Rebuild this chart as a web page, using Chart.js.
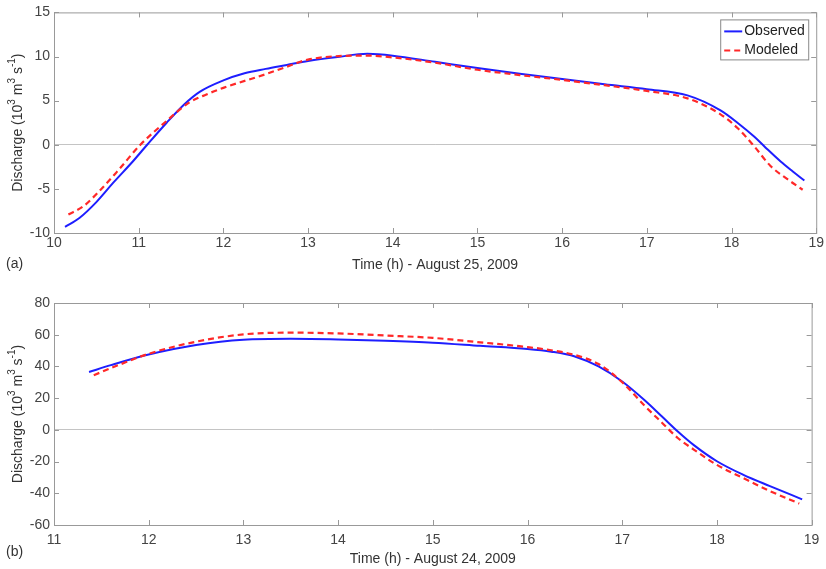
<!DOCTYPE html>
<html>
<head>
<meta charset="utf-8">
<script src="https://cdn.jsdelivr.net/npm/chart.js@4/dist/chart.umd.min.js"></script>
<style>
  body { margin: 0; background: #fff; }
  #wrap { position: relative; width: 826px; height: 569px; }
  canvas { position: absolute; left: 0; }
  #chartA { top: 0; }
  #chartB { top: 284px; }
</style>
</head>
<body>
<div id="wrap">
  <canvas id="chartA" width="826" height="284"></canvas>
  <canvas id="chartB" width="826" height="285"></canvas>
</div>
<script>
// panel (a) - August 25, 2009
var timeObsA = [10.13, 10.3, 10.5, 10.7, 10.93, 11.1, 11.33, 11.54, 11.72, 12.0, 12.25, 12.5, 12.75, 13.0, 13.35, 13.7, 14.0, 14.5, 15.0, 15.5, 16.0, 16.5, 17.0, 17.48, 17.87, 18.07, 18.27, 18.4, 18.58, 18.72, 18.86];
var observedA = [-9.3, -8.3, -6.5, -4.3, -1.9, 0, 2.5, 4.6, 6.0, 7.3, 8.1, 8.6, 9.05, 9.5, 9.95, 10.3, 10.1, 9.4, 8.7, 8.05, 7.45, 6.85, 6.3, 5.6, 3.9, 2.5, 0.9, -0.3, -1.9, -3.0, -4.05];
var timeModA = [10.17, 10.35, 10.54, 10.74, 11.02, 11.33, 11.6, 11.8, 12.0, 12.5, 12.75, 13.0, 13.7, 14.0, 14.5, 15.0, 15.5, 16.0, 16.5, 17.0, 17.48, 17.87, 18.07, 18.27, 18.46, 18.66, 18.84];
var modeledA = [-7.9, -6.95, -5.2, -3.1, 0, 2.7, 4.8, 5.7, 6.45, 8.0, 8.85, 9.65, 10.1, 9.9, 9.3, 8.5, 7.9, 7.35, 6.75, 6.1, 5.26, 3.45, 1.9, -0.2, -2.4, -3.9, -5.1];

// panel (b) - August 24, 2009
var timeObsB = [11.37, 11.6, 12.0, 12.5, 13.0, 13.5, 14.0, 14.5, 15.0, 15.5, 16.0, 16.25, 16.5, 16.75, 17.0, 17.24, 17.42, 17.59, 17.76, 18.0, 18.28, 18.56, 18.9];
var observedB = [36.5, 40.8, 47.5, 53.5, 56.8, 57.4, 57.0, 56.2, 55.0, 53.0, 51.0, 49.3, 46.3, 40.0, 30.5, 18.5, 8.4, -1.2, -9.8, -19.8, -28.4, -35.5, -43.8];
var timeModB = [11.42, 11.7, 12.0, 12.5, 13.0, 13.5, 14.0, 14.5, 15.0, 15.5, 16.0, 16.25, 16.5, 16.75, 17.0, 17.24, 17.42, 17.59, 17.76, 18.0, 18.28, 18.56, 18.87];
var modeledB = [34.5, 41.3, 48.0, 55.6, 60.2, 61.3, 60.8, 59.5, 58.0, 55.2, 52.2, 50.2, 47.2, 41.5, 30.0, 15.0, 4.5, -5.3, -12.6, -22.1, -30.5, -38.6, -46.5];

var seriesNames = ["Observed", "Modeled"];
var observedColor = "#1e1eff";
var modeledColor = "#ff2828";

Chart.defaults.font.family = "'Liberation Sans', Arial, sans-serif";
Chart.defaults.font.size = 14;
Chart.defaults.color = "#444";

function toPoints(xs, ys) {
  return xs.map((x, i) => ({ x: x, y: ys[i] }));
}

// box around the plot area with inward tick marks on all four sides
var frame = {
  id: "frame",
  beforeDatasetsDraw(chart) {
    var ctx = chart.ctx;
    var a = chart.chartArea;
    var len = 5;
    ctx.save();
    ctx.strokeStyle = "#999";
    ctx.lineWidth = 1;
    ctx.strokeRect(a.left + 0.5, a.top + 0.5, a.right - a.left, a.bottom - a.top);
    ctx.beginPath();
    chart.scales.x.ticks.forEach((t) => {
      var px = Math.round(chart.scales.x.getPixelForValue(t.value)) + 0.5;
      ctx.moveTo(px, a.bottom);
      ctx.lineTo(px, a.bottom - len);
      ctx.moveTo(px, a.top);
      ctx.lineTo(px, a.top + len);
    });
    chart.scales.y.ticks.forEach((t) => {
      var py = Math.round(chart.scales.y.getPixelForValue(t.value)) + 0.5;
      ctx.moveTo(a.left, py);
      ctx.lineTo(a.left + len, py);
      ctx.moveTo(a.right, py);
      ctx.lineTo(a.right - len, py);
    });
    ctx.stroke();
    ctx.restore();
  },
};

// rotated y title with raised exponents
var yTitle = {
  id: "yTitle",
  afterDraw(chart) {
    var ctx = chart.ctx;
    var a = chart.chartArea;
    var parts = [
      ["Discharge (10", false],
      ["3", true],
      [" m", false],
      ["3", true],
      [" s", false],
      ["-1", true],
      [")", false],
    ];
    var big = "14px 'Liberation Sans', Arial, sans-serif";
    var small = "10px 'Liberation Sans', Arial, sans-serif";
    ctx.save();
    var total = 0;
    parts.forEach((p) => {
      ctx.font = p[1] ? small : big;
      total += ctx.measureText(p[0]).width;
    });
    ctx.translate(18, (a.top + a.bottom) / 2);
    ctx.rotate(-Math.PI / 2);
    ctx.fillStyle = "#333";
    ctx.textBaseline = "middle";
    var x = -total / 2;
    parts.forEach((p) => {
      ctx.font = p[1] ? small : big;
      ctx.fillText(p[0], x, p[1] ? -6 : 0);
      x += ctx.measureText(p[0]).width;
    });
    ctx.restore();
  },
};

var panelLabel = {
  id: "panelLabel",
  afterDraw(chart, args, opts) {
    var ctx = chart.ctx;
    ctx.save();
    ctx.font = "14px 'Liberation Sans', Arial, sans-serif";
    ctx.fillStyle = "#333";
    ctx.textBaseline = "middle";
    ctx.fillText(opts.text, 6, opts.y);
    ctx.restore();
  },
};

// boxed legend in the upper right corner of the plot
var boxLegend = {
  id: "boxLegend",
  afterDatasetsDraw(chart) {
    var ctx = chart.ctx;
    var a = chart.chartArea;
    var w = 88, h = 40;
    var left = a.right - 8 - w;
    var top = a.top + 7;
    ctx.save();
    ctx.fillStyle = "#fff";
    ctx.fillRect(left, top, w, h);
    ctx.strokeStyle = "#888";
    ctx.lineWidth = 1;
    ctx.strokeRect(left + 0.5, top + 0.5, w, h);
    ctx.font = "14px 'Liberation Sans', Arial, sans-serif";
    ctx.textBaseline = "middle";
    chart.data.datasets.forEach((ds, i) => {
      var y = top + 12 + i * 19;
      ctx.beginPath();
      ctx.strokeStyle = ds.borderColor;
      ctx.lineWidth = 2;
      ctx.setLineDash(ds.borderDash || []);
      ctx.moveTo(left + 4, y);
      ctx.lineTo(left + 22, y);
      ctx.stroke();
      ctx.setLineDash([]);
      ctx.fillStyle = "#222";
      ctx.fillText(ds.label, left + 24, y);
    });
    ctx.restore();
  },
};

function makeChart(id, opt) {
  var plugins = [frame, yTitle, panelLabel];
  if (opt.legend) plugins.push(boxLegend);
  return new Chart(id, {
    type: "line",
    data: {
      datasets: [
        {
          label: seriesNames[0],
          data: toPoints(opt.obsX, opt.obsY),
          borderColor: observedColor,
          borderWidth: 2,
          pointRadius: 0,
          cubicInterpolationMode: "monotone",
          order: 1,
        },
        {
          label: seriesNames[1],
          data: toPoints(opt.modX, opt.modY),
          borderColor: modeledColor,
          borderWidth: 2.2,
          borderDash: [6, 4],
          pointRadius: 0,
          cubicInterpolationMode: "monotone",
          order: 0,
        },
      ],
    },
    options: {
      responsive: false,
      animation: false,
      devicePixelRatio: 1,
      layout: { padding: { top: opt.padTop, right: opt.padRight, left: 0, bottom: 0 } },
      plugins: {
        legend: { display: false },
        tooltip: { enabled: false },
        panelLabel: { text: opt.panel, y: opt.panelY },
      },
      scales: {
        x: {
          type: "linear",
          min: opt.xMin,
          max: opt.xMax,
          ticks: { stepSize: 1, padding: opt.xTickPad, color: "#444" },
          grid: { display: false, drawTicks: false },
          border: { display: false },
          title: {
            display: true,
            text: opt.xTitle,
            color: "#333",
            padding: { top: 0, bottom: opt.xTitlePad },
          },
          afterFit: (s) => { s.height = opt.xHeight; },
        },
        y: {
          min: opt.yMin,
          max: opt.yMax,
          ticks: { stepSize: opt.yStep, padding: 4, color: "#444" },
          grid: {
            drawTicks: false,
            color: (c) => (c.tick && c.tick.value === 0 ? "#c4c4c4" : "rgba(0,0,0,0)"),
          },
          border: { display: false },
          afterFit: (s) => { s.width = 54; },
        },
      },
    },
    plugins: plugins,
  });
}

makeChart("chartA", {
  obsX: timeObsA, obsY: observedA, modX: timeModA, modY: modeledA,
  xMin: 10, xMax: 19, yMin: -10, yMax: 15, yStep: 5,
  xTitle: "Time (h) - August 25, 2009",
  panel: "(a)", panelY: 264,
  padTop: 11, padRight: 7, xHeight: 51, xTickPad: 2, xTitlePad: 10.6,
  legend: true,
});

makeChart("chartB", {
  obsX: timeObsB, obsY: observedB, modX: timeModB, modY: modeledB,
  xMin: 11, xMax: 19, yMin: -60, yMax: 80, yStep: 20,
  xTitle: "Time (h) - August 24, 2009",
  panel: "(b)", panelY: 268,
  padTop: 19, padRight: 8, xHeight: 44, xTickPad: 6.6, xTitlePad: 1.5,
  legend: false,
});
</script>
</body>
</html>
